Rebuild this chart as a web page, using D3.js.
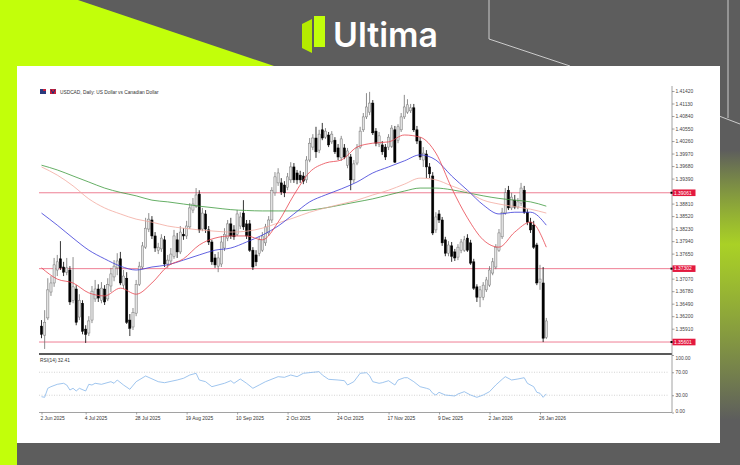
<!DOCTYPE html>
<html><head><meta charset="utf-8">
<script src="https://cdn.jsdelivr.net/npm/d3@7"></script>
<style>html,body{margin:0;padding:0;background:#5d5d5d;}svg{display:block;}</style>
</head><body>
<svg id="c" width="740" height="465"></svg>
<script>
// ---------- DATA ----------
const title = "USDCAD, Daily:  US Dollar vs Canadian Dollar";
const dateLabels = ["2 Jun 2025","4 Jul 2025","28 Jul 2025","19 Aug 2025","10 Sep 2025","2 Oct 2025","24 Oct 2025","17 Nov 2025","9 Dec 2025","2 Jan 2026","26 Jan 2026"];
const dateLabelBars = [0,14,30,46,62,78,94,110,126,142,158];
const priceTicks = [1.41420,1.41130,1.40840,1.40550,1.40260,1.39970,1.39680,1.39390,1.38810,1.38520,1.38230,1.37940,1.37650,1.37070,1.36780,1.36490,1.36200,1.35910];
const levels = [1.39061,1.37302,1.35601];
const rsiTicks = [100,70,30,0];
const rsiLevels = [70,30];
const rsiLabel = "RSI(14) 32.41";

const open = [1.3597,1.3576,1.3616,1.3676,1.3697,1.3727,1.3753,1.3734,1.3722,1.3727,
1.3657,1.3683,1.3618,1.3650,1.3590,1.3581,1.3611,1.3660,1.3683,1.3657,
1.3683,1.3660,1.3690,1.3711,1.3732,1.3753,1.3692,1.3708,1.3611,1.3595,
1.3627,1.3694,1.3734,1.3780,1.3822,1.3843,1.3806,1.3773,1.3776,1.3797,
1.3741,1.3748,1.3759,1.3797,1.3769,1.3810,1.3806,1.3827,1.3866,1.3875,
1.3903,1.3822,1.3857,1.3820,1.3792,1.3755,1.3736,1.3741,1.3778,1.3801,
1.3834,1.3820,1.3810,1.3829,1.3859,1.3834,1.3834,1.3773,1.3762,1.3766,
1.3773,1.3790,1.3813,1.3843,1.3906,1.3929,1.3929,1.3924,1.3919,1.3936,
1.3966,1.3952,1.3947,1.3945,1.3936,1.3982,1.4012,1.4033,1.4005,1.4052,
1.4035,1.4040,1.4024,1.4028,1.4010,1.3987,1.4010,1.3970,1.3989,1.3936,
1.3975,1.4012,1.4052,1.4082,1.4093,1.4114,1.4049,1.4019,1.4017,1.4012,
1.4012,1.4014,1.4052,1.4028,1.4052,1.4082,1.4093,1.4096,1.4103,1.4052,
1.4026,1.3982,1.3996,1.3966,1.3945,1.3820,1.3857,1.3843,1.3797,1.3766,
1.3783,1.3769,1.3757,1.3773,1.3773,1.3801,1.3790,1.3746,1.3688,1.3664,
1.3664,1.3681,1.3692,1.3720,1.3734,1.3773,1.3804,1.3859,1.3912,1.3871,
1.3889,1.3873,1.3882,1.3912,1.3861,1.3838,1.3831,1.3785,1.3699,1.3697,
1.3571];
const high = [1.3611,1.3634,1.3708,1.3713,1.3755,1.3762,1.3794,1.3746,1.3755,1.3736,
1.3757,1.3692,1.3671,1.3657,1.3599,1.3620,1.3690,1.3704,1.3694,1.3699,
1.3692,1.3708,1.3732,1.3750,1.3766,1.3769,1.3727,1.3722,1.3625,1.3639,
1.3704,1.3746,1.3792,1.3848,1.3859,1.3852,1.3815,1.3790,1.3810,1.3806,
1.3762,1.3778,1.3820,1.3813,1.3829,1.3824,1.3841,1.3882,1.3894,1.3917,
1.3912,1.3871,1.3866,1.3829,1.3797,1.3764,1.3769,1.3806,1.3824,1.3843,
1.3848,1.3831,1.3866,1.3861,1.3889,1.3843,1.3843,1.3780,1.3773,1.3804,
1.3815,1.3834,1.3852,1.3919,1.3954,1.3963,1.3940,1.3933,1.3952,1.3977,
1.3975,1.3959,1.3957,1.3954,1.3991,1.4033,1.4042,1.4059,1.4052,1.4068,
1.4056,1.4047,1.4049,1.4035,1.4019,1.4038,1.4019,1.4010,1.3996,1.3982,
1.4019,1.4059,1.4091,1.4137,1.4140,1.4121,1.4056,1.4047,1.4026,1.4019,
1.4042,1.4063,1.4061,1.4065,1.4091,1.4133,1.4123,1.4112,1.4112,1.4061,
1.4035,1.4012,1.4005,1.3975,1.3954,1.3861,1.3866,1.3850,1.3804,1.3794,
1.3792,1.3776,1.3787,1.3799,1.3806,1.3810,1.3797,1.3753,1.3694,1.3690,
1.3699,1.3711,1.3736,1.3755,1.3787,1.3822,1.3871,1.3917,1.3922,1.3906,
1.3901,1.3894,1.3929,1.3922,1.3868,1.3848,1.3841,1.3790,1.3739,1.3734,
1.3616];
const low = [1.3569,1.3544,1.3611,1.3667,1.3688,1.3713,1.3727,1.3713,1.3715,1.3646,
1.3650,1.3599,1.3611,1.3578,1.3558,1.3574,1.3604,1.3653,1.3653,1.3650,
1.3646,1.3655,1.3676,1.3701,1.3715,1.3692,1.3683,1.3602,1.3574,1.3588,
1.3620,1.3690,1.3729,1.3776,1.3815,1.3799,1.3769,1.3764,1.3769,1.3734,
1.3732,1.3739,1.3753,1.3755,1.3764,1.3797,1.3799,1.3822,1.3859,1.3871,
1.3813,1.3817,1.3813,1.3785,1.3739,1.3732,1.3722,1.3734,1.3771,1.3794,
1.3799,1.3797,1.3806,1.3822,1.3820,1.3799,1.3769,1.3727,1.3736,1.3759,
1.3769,1.3783,1.3806,1.3836,1.3899,1.3922,1.3901,1.3896,1.3912,1.3929,
1.3929,1.3926,1.3929,1.3926,1.3929,1.3977,1.4005,1.3987,1.3998,1.4028,
1.4031,1.4012,1.4019,1.3996,1.3982,1.3980,1.3984,1.3963,1.3912,1.3929,
1.3970,1.4008,1.4047,1.4077,1.4086,1.4040,1.4014,1.4012,1.3994,1.3982,
1.4005,1.4010,1.3975,1.4021,1.4047,1.4077,1.4089,1.4091,1.4047,1.4019,
1.3982,1.3966,1.3940,1.3940,1.3808,1.3813,1.3836,1.3783,1.3759,1.3759,
1.3746,1.3748,1.3750,1.3766,1.3769,1.3769,1.3739,1.3681,1.3653,1.3641,
1.3657,1.3676,1.3688,1.3715,1.3729,1.3769,1.3799,1.3855,1.3866,1.3866,
1.3868,1.3868,1.3875,1.3857,1.3831,1.3813,1.3776,1.3692,1.3681,1.3560,
1.3567];
const close = [1.3578,1.3606,1.3681,1.3697,1.3739,1.3746,1.3732,1.3722,1.3732,1.3653,
1.3688,1.3606,1.3657,1.3585,1.3578,1.3609,1.3678,1.3683,1.3662,1.3685,
1.3653,1.3694,1.3718,1.3736,1.3748,1.3697,1.3713,1.3606,1.3592,1.3629,
1.3694,1.3736,1.3783,1.3824,1.3845,1.3806,1.3778,1.3780,1.3801,1.3741,
1.3750,1.3764,1.3806,1.3769,1.3815,1.3806,1.3829,1.3871,1.3880,1.3901,
1.3820,1.3859,1.3822,1.3792,1.3746,1.3739,1.3755,1.3792,1.3810,1.3834,
1.3806,1.3804,1.3857,1.3850,1.3827,1.3806,1.3773,1.3734,1.3746,1.3797,
1.3806,1.3827,1.3843,1.3912,1.3943,1.3952,1.3908,1.3906,1.3943,1.3966,
1.3936,1.3936,1.3936,1.3933,1.3982,1.4021,1.4033,1.4001,1.4042,1.4033,
1.4049,1.4017,1.4042,1.4001,1.3989,1.4031,1.3989,1.4003,1.3936,1.3973,
1.4010,1.4049,1.4082,1.4105,1.4114,1.4045,1.4021,1.4038,1.4001,1.3989,
1.4035,1.4056,1.3977,1.4059,1.4082,1.4105,1.4110,1.4103,1.4052,1.4026,
1.3989,1.3998,1.3966,1.3950,1.3813,1.3850,1.3843,1.3790,1.3766,1.3785,
1.3759,1.3755,1.3780,1.3792,1.3797,1.3773,1.3743,1.3685,1.3664,1.3681,
1.3692,1.3704,1.3727,1.3746,1.3780,1.3813,1.3861,1.3906,1.3871,1.3896,
1.3873,1.3885,1.3917,1.3861,1.3838,1.3820,1.3780,1.3697,1.3706,1.3569,
1.3609];

const maBars = [0,5,10,15,20,25,30,35,40,45,50,55,60,65,70,75,80,85,90,95,100,105,110,115,120,125,130,135,140,145,150,155,160];
const maFast = [1.3732,1.3706,1.3697,1.3674,1.3667,1.3685,1.3671,1.3697,1.3736,1.3753,1.3785,1.3801,1.3806,1.3806,1.3797,1.3838,1.3901,1.3954,1.3975,1.3982,1.4012,1.4021,1.4024,1.4040,1.4035,1.3998,1.3917,1.3848,1.3797,1.3780,1.3815,1.3838,1.3780];
const maMid = [1.3859,1.3831,1.3801,1.3773,1.3753,1.3736,1.3727,1.3734,1.3739,1.3750,1.3762,1.3773,1.3778,1.3792,1.3808,1.3829,1.3857,1.3885,1.3901,1.3915,1.3931,1.3952,1.3966,1.3980,1.3994,1.3982,1.3945,1.3912,1.3878,1.3857,1.3861,1.3861,1.3831];
const maSlow = [1.3966,1.3947,1.3922,1.3892,1.3871,1.3857,1.3845,1.3838,1.3829,1.3824,1.3820,1.3817,1.3815,1.3817,1.3824,1.3836,1.3848,1.3861,1.3871,1.3880,1.3889,1.3901,1.3912,1.3926,1.3940,1.3936,1.3922,1.3908,1.3889,1.3880,1.3874,1.3868,1.3859];
const maLong = [1.3970,1.3959,1.3945,1.3931,1.3917,1.3907,1.3899,1.3889,1.3885,1.3880,1.3875,1.3871,1.3867,1.3865,1.3864,1.3864,1.3864,1.3866,1.3871,1.3878,1.3885,1.3892,1.3901,1.3910,1.3917,1.3917,1.3913,1.3906,1.3899,1.3893,1.3889,1.3885,1.3875];

const rsiBars = [0,1,2,3,5,7,8,9,10,11,12,14,15,16,17,19,22,23,24,26,28,30,33,37,39,43,45,47,49,50,52,54,58,60,61,63,65,67,69,71,75,77,79,81,83,86,88,89,91,94,96,97,99,101,103,104,105,107,108,110,112,113,115,116,118,120,122,123,124,125,126,128,131,132,134,136,138,140,142,144,146,147,149,151,153,154,156,157,158,159,160];
const rsiValues = [27.5,26.4,42.1,44.9,49,50.8,47.8,39.1,42.1,37.4,42.1,37.4,49,47.8,50.8,49,53.6,50.8,56.5,47.8,40.3,53.6,63.5,53.6,51.8,56.5,59.5,65.2,68.2,56.5,53.6,44.9,50.8,55.3,50.8,58.3,50.8,42.1,47.8,53.6,62.3,61.2,65.2,62.3,68.2,69.9,71,65.2,57.7,56.5,55.3,47.8,53.6,68.2,69.2,64,53.6,50.8,51.8,55.3,47.8,56.5,60.5,60.5,53.6,44.9,42.1,40.3,33.4,30.4,35.1,30.4,28.7,32.2,36.2,30.4,26.4,30.4,36.2,47.8,57.7,62.3,56.5,58.3,60.5,50.8,44.9,35.1,33.4,26.4,32.41];

// ---------- DRAW ----------
const svg = d3.select("#c");
const FONT = "'Liberation Sans', Arial, sans-serif";
const LIME = "#c2ff0a";

// background
svg.append("rect").attr("width",740).attr("height",465).attr("fill","#5d5d5d");
const defs = svg.append("defs");
const g1 = defs.append("linearGradient").attr("id","rg").attr("x1",0).attr("y1",0).attr("x2",0).attr("y2",1);
g1.append("stop").attr("offset","0").attr("stop-color",LIME).attr("stop-opacity",0);
g1.append("stop").attr("offset","0.35").attr("stop-color","#b7e51c").attr("stop-opacity",0.85);
g1.append("stop").attr("offset","1").attr("stop-color","#5d5d5d").attr("stop-opacity",1);
svg.append("rect").attr("x",720).attr("y",150).attr("width",20).attr("height",270).attr("fill","url(#rg)");
svg.append("polygon").attr("points","0,0 78,0 280,68 17,68 17,465 0,465").attr("fill",LIME);
svg.append("polyline").attr("points","489,0 489,39 570,66").attr("fill","none").attr("stroke","#d8d8d8").attr("stroke-width",0.9);
svg.append("line").attr("x1",728).attr("y1",0).attr("x2",728).attr("y2",118).attr("stroke","#d8d8d8").attr("stroke-width",0.9);
svg.append("line").attr("x1",719).attr("y1",116).attr("x2",740).attr("y2",124).attr("stroke","#d8d8d8").attr("stroke-width",0.9);

// logo
svg.append("polygon").attr("points","302,24 312,19 312,53 302,48").attr("fill","#b5ea00");
svg.append("polygon").attr("points","314,16 325,16 325,47 314,47").attr("fill",LIME);
svg.append("text").attr("x",333).attr("y",47).attr("font-family","Inter, 'Open Sans', sans-serif")
  .attr("font-weight",600).attr("font-size",34).attr("fill","#ffffff")
  .attr("textLength",105).attr("lengthAdjust","spacingAndGlyphs").text("Ultima");

// card
svg.append("rect").attr("x",17).attr("y",66).attr("width",703).attr("height",377).attr("fill","#ffffff");

// scales
const x = d3.scaleLinear().domain([0,160]).range([41.5,546.3]);
const y = d3.scaleLinear().domain([1.3591,1.4142]).range([328.7,91]);
const yR = d3.scaleLinear().domain([0,100]).range([412.5,355]);
const L = 39, R = 672;

// title + icons
svg.append("rect").attr("x",40).attr("y",89).attr("width",6).attr("height",5).attr("fill","#2b3a7c");
svg.append("rect").attr("x",43).attr("y",89).attr("width",3).attr("height",2).attr("fill","#c8203a");
svg.append("rect").attr("x",50).attr("y",89).attr("width",6).attr("height",5).attr("fill","#c8203a");
svg.append("path").attr("d","M51,89.5 L53,93.5 L55,89.5").attr("fill","none").attr("stroke","#1d2d78").attr("stroke-width",1);
svg.append("text").attr("x",60).attr("y",94).attr("font-family",FONT).attr("font-size",4.8).attr("fill","#333").text(title);

// clip for main panel
defs.append("clipPath").attr("id","mainClip").append("rect").attr("x",L).attr("y",84).attr("width",R-L).attr("height",269);
const main = svg.append("g").attr("clip-path","url(#mainClip)");

// horizontal levels
main.selectAll("line.lvl").data(levels).join("line").attr("class","lvl")
  .attr("x1",L).attr("x2",R).attr("y1",d=>y(d)).attr("y2",d=>y(d))
  .attr("stroke","#ec7088").attr("stroke-width",0.9);

// candles
const idx = d3.range(close.length);
const cg = main.append("g");
cg.selectAll("line.w").data(idx).join("line").attr("class","w")
  .attr("x1",i=>x(i)).attr("x2",i=>x(i)).attr("y1",i=>y(high[i])).attr("y2",i=>y(low[i]))
  .attr("stroke",i=>close[i]>=open[i]?"#707070":"#000").attr("stroke-width",0.8);
cg.selectAll("rect.b").data(idx).join("rect").attr("class","b")
  .attr("x",i=>x(i)-1.1).attr("width",2.2)
  .attr("y",i=>y(Math.max(open[i],close[i])))
  .attr("height",i=>Math.max(0.8,Math.abs(y(open[i])-y(close[i]))))
  .attr("fill",i=>close[i]>=open[i]?"#e2e2e2":"#000")
  .attr("stroke",i=>close[i]>=open[i]?"#777":"#000").attr("stroke-width",0.5);

// moving averages
const maLine = vals => d3.line().x((d,i)=>x(maBars[i])).y(d=>y(d)).curve(d3.curveMonotoneX)(vals);
[[maLong,"#3f9b3f"],[maSlow,"#f3a99f"],[maMid,"#3a3ad8"],[maFast,"#e8454f"]].forEach(([v,c])=>{
  main.append("path").attr("d",maLine(v)).attr("fill","none").attr("stroke",c).attr("stroke-width",0.8);
});

// frame lines
svg.append("line").attr("x1",L).attr("x2",R).attr("y1",354).attr("y2",354).attr("stroke","#222").attr("stroke-width",1.4);
svg.append("line").attr("x1",L).attr("x2",R).attr("y1",412.5).attr("y2",412.5).attr("stroke","#8a8a8a").attr("stroke-width",0.8);
svg.append("line").attr("x1",R).attr("x2",R).attr("y1",86).attr("y2",412.5).attr("stroke","#8a8a8a").attr("stroke-width",0.8);

// price axis
const pa = svg.append("g").attr("transform",`translate(${R},0)`)
  .call(d3.axisRight(y).tickValues(priceTicks).tickSize(2.5).tickPadding(1).tickFormat(d3.format(".5f")));
pa.select(".domain").remove();
pa.selectAll("line").attr("stroke","#666").attr("stroke-width",0.6);
pa.selectAll("text").attr("font-family",FONT).attr("font-size",4.9).attr("fill","#444");

// level labels
const lg = svg.append("g").selectAll("g").data(levels).join("g").attr("transform",d=>`translate(${R},${y(d)})`);
lg.append("rect").attr("x",0.5).attr("y",-3.3).attr("width",23).attr("height",6.6).attr("fill","#e3193f");
lg.append("rect").attr("x",-1.5).attr("y",-1).attr("width",2).attr("height",2).attr("fill","#000");
lg.append("text").attr("x",2).attr("y",1.8).attr("font-family",FONT).attr("font-size",4.9).attr("fill","#fff").text(d=>d3.format(".5f")(d));

// RSI panel
svg.selectAll("line.rl").data(rsiLevels).join("line").attr("class","rl")
  .attr("x1",L).attr("x2",R-4).attr("y1",d=>yR(d)).attr("y2",d=>yR(d))
  .attr("stroke","#b8b8b8").attr("stroke-width",0.6).attr("stroke-dasharray","1,1.5");
const rsiLine = d3.line().x((d,i)=>x(rsiBars[i])).y(d=>yR(d));
svg.append("path").attr("d",rsiLine(rsiValues)).attr("fill","none").attr("stroke","#86b6ea").attr("stroke-width",0.8);
svg.append("text").attr("x",40).attr("y",362).attr("font-family",FONT).attr("font-size",4.8).attr("fill","#333").text(rsiLabel);
const ra = svg.append("g").attr("transform",`translate(${R},0)`)
  .call(d3.axisRight(yR).tickValues(rsiTicks).tickSize(2).tickPadding(1.5).tickFormat(d3.format(".2f")));
ra.select(".domain").remove();
ra.selectAll("line").attr("stroke","#666").attr("stroke-width",0.6);
ra.selectAll("text").attr("font-family",FONT).attr("font-size",4.9).attr("fill","#444")
  .attr("dy",d=>d===100?"0.9em":(d===0?"-0.1em":"0.32em"));

// date axis
const da = svg.append("g").attr("transform","translate(0,412.5)")
  .call(d3.axisBottom(x).tickValues(dateLabelBars).tickSize(2).tickPadding(2.5).tickFormat((d,i)=>dateLabels[i]));
da.select(".domain").remove();
da.selectAll("line").attr("stroke","#666").attr("stroke-width",0.6);
da.selectAll("text").attr("font-family",FONT).attr("font-size",4.9).attr("fill","#333")
  .attr("text-anchor","start").attr("dx",-1.5);
</script>
</body></html>
